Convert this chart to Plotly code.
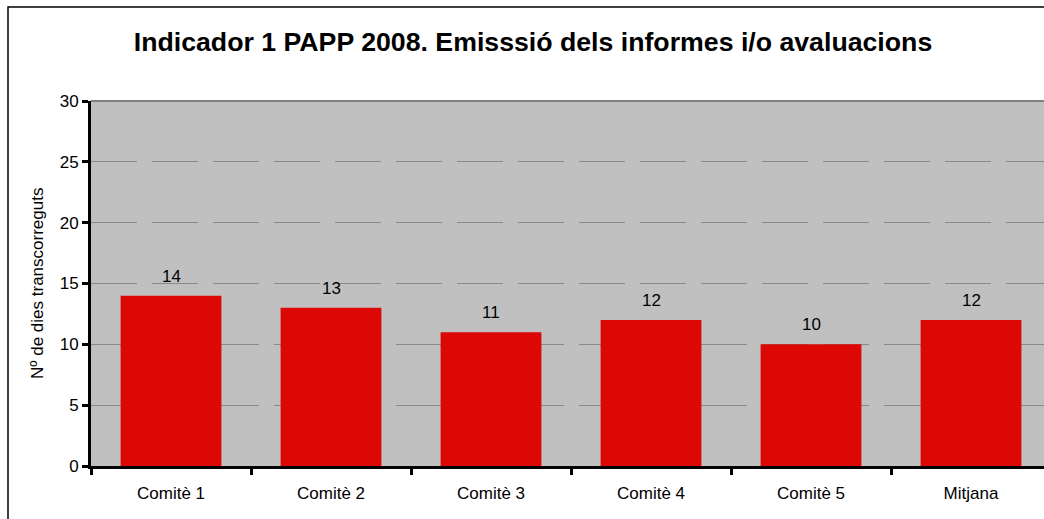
import plotly.graph_objects as go

categories = ["Comitè 1", "Comitè 2", "Comitè 3", "Comitè 4", "Comitè 5", "Mitjana"]
values = [14, 13, 11, 12, 10, 12]
y_ticks = [0, 5, 10, 15, 20, 25, 30]

W, H = 1044, 519
L, R, T, B = 91, 0, 101, 53
pw = W - L - R
ph = H - T - B

def px_x(x):
    return (x - L) / pw

def px_y(y):
    return (H - B - y) / ph

FONT = "Liberation Sans, Arial"

fig = go.Figure()
fig.add_trace(go.Bar(
    x=categories, y=values,
    marker=dict(color="#DD0806", line=dict(width=0)),
    width=0.63,
    hoverinfo="x+y",
))

label_annotations = [
    dict(text=str(v), x=c, y=v, xref="x", yref="y",
         xanchor="center", yanchor="bottom", yshift=8, showarrow=False,
         font=dict(family=FONT, size=17, color="#000000"))
    for c, v in zip(categories, values)
]

fig.update_layout(
    width=W, height=H,
    margin=dict(l=L, r=R, t=T, b=B),
    paper_bgcolor="#FFFFFF",
    plot_bgcolor="#C0C0C0",
    showlegend=False,
    font=dict(family=FONT, size=17, color="#000000"),
    title=dict(
        text="<b>Indicador 1 PAPP 2008. Emisssió dels informes i/o avaluacions</b>",
        x=px_x(533), xref="paper", xanchor="center",
        y=1 - 42 / H, yref="container", yanchor="middle",
        font=dict(family=FONT, size=26.7, color="#000000"),
    ),
    xaxis=dict(
        type="category",
        range=[-0.5, -0.5 + pw / 160.0],
        showline=True, linecolor="#000000", linewidth=3,
        ticks="outside", tickson="boundaries", ticklen=6, tickwidth=3, tickcolor="#000000",
        ticklabelstandoff=10,
        showgrid=False,
        tickfont=dict(family=FONT, size=17),
    ),
    yaxis=dict(
        range=[0, 30],
        tickvals=y_ticks,
        showline=True, linecolor="#000000", linewidth=3,
        ticks="outside", ticklen=6, tickwidth=3, tickcolor="#000000",
        showgrid=True, gridcolor="#8A8A8A", gridwidth=1, griddash="46px,15px",
        zeroline=False,
        tickfont=dict(family=FONT, size=17),
    ),
    shapes=[
        dict(type="rect", xref="paper", yref="paper",
             x0=px_x(8), x1=1.05, y0=-0.3, y1=px_y(7),
             line=dict(color="#000000", width=1.5), fillcolor="rgba(0,0,0,0)", layer="below"),
        dict(type="line", xref="paper", yref="paper",
             x0=0, x1=1, y0=1, y1=1,
             line=dict(color="#808080", width=2)),
    ],
    annotations=label_annotations + [
        dict(text="Nº de dies transcorreguts", textangle=-90,
             xref="paper", yref="paper", x=px_x(37), y=px_y(284),
             xanchor="center", yanchor="middle", showarrow=False,
             font=dict(family=FONT, size=17, color="#000000")),
    ],
)

fig.write_html(
    "out.html",
    config={"displayModeBar": False},
    post_script="document.body.style.margin='0px';document.body.style.overflow='hidden';",
)
